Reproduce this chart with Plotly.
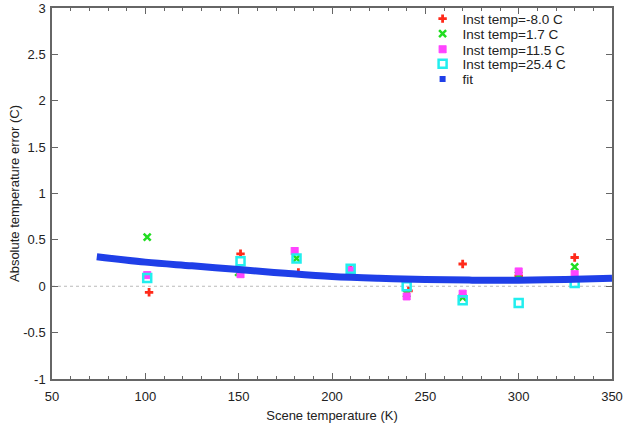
import plotly.graph_objects as go

# Scene temperature (K) for each instrument-temperature series
x_m8 = [102, 151, 182, 210, 241, 270, 300, 330]
y_m8 = [-0.065, 0.35, 0.15, 0.18, -0.05, 0.24, 0.11, 0.31]

x_p17 = [101, 150, 181, 210, 240, 270, 300, 330]
y_p17 = [0.53, 0.15, 0.30, 0.17, -0.08, -0.12, 0.12, 0.21]

x_p115 = [101, 151, 180, 210, 240, 270, 300, 330]
y_p115 = [0.12, 0.13, 0.38, 0.17, -0.11, -0.08, 0.16, 0.13]

x_p254 = [101, 151, 181, 210, 240, 270, 300, 330]
y_p254 = [0.09, 0.27, 0.30, 0.19, 0.0, -0.15, -0.18, 0.035]

fit_x = [74, 100, 125, 150, 175, 200, 225, 250, 275, 300, 325, 350]
fit_y = [0.318, 0.26, 0.22, 0.18, 0.14, 0.105, 0.085, 0.072, 0.066, 0.066, 0.073, 0.086]

x_tickvals = [50, 100, 150, 200, 250, 300, 350]
x_ticktext = ["50", "100", "150", "200", "250", "300", "350"]
y_tickvals = [-1, -0.5, 0, 0.5, 1, 1.5, 2, 2.5, 3]
y_ticktext = ["-1", "-0.5", "0", "0.5", "1", "1.5", "2", "2.5", "3"]

legend_rows_y = [0.9555, 0.920, 0.883, 0.849, 0.813]

font = "Liberation Sans, Arial, Helvetica, sans-serif"
txt = "#222222"

fig = go.Figure()
fig.add_trace(go.Scatter(x=x_m8, y=y_m8, mode="markers", name="Inst temp=-8.0 C", legend="legend",
                         marker=dict(symbol="cross", size=7, color="#ff2a1a", line=dict(width=0))))
fig.add_trace(go.Scatter(x=x_p17, y=y_p17, mode="markers", name="Inst temp=1.7 C", legend="legend2",
                         marker=dict(symbol="x-thin-open", size=7, color="#22dd22",
                                     line=dict(width=2.5, color="#22dd22"))))
fig.add_trace(go.Scatter(x=x_p115, y=y_p115, mode="markers", name="Inst temp=11.5 C", legend="legend3",
                         marker=dict(symbol="square-x", size=7, color="#ff44ff",
                                     line=dict(width=1, color="#ff44ff"))))
fig.add_trace(go.Scatter(x=x_p254, y=y_p254, mode="markers", name="Inst temp=25.4 C", legend="legend4",
                         marker=dict(symbol="square-open", size=8, color="#22eeee",
                                     line=dict(width=2.5, color="#22eeee"))))
fig.add_trace(go.Scatter(x=fit_x, y=fit_y, mode="lines", name="fit", showlegend=False,
                         line=dict(color="#1f3fe8", width=7, shape="spline")))
fig.add_trace(go.Scatter(x=[None], y=[None], mode="markers", name="fit", legend="legend5",
                         marker=dict(symbol="square", size=6, color="#1f3fe8")))

fig.add_hline(y=0, line=dict(color="#bbbbbb", width=1, dash="dot"), layer="below")

axis_common = dict(showline=True, mirror="ticks", linecolor="#666666", linewidth=1.5,
                   ticks="inside", tickcolor="#666666", showgrid=False, zeroline=False,
                   automargin=False,
                   tickfont=dict(family=font, size=13, color=txt))

fig.update_xaxes(range=[50, 350], tickmode="array", tickvals=x_tickvals, ticktext=x_ticktext, ticklen=6,
                 ticklabelstandoff=5,
                 minor=dict(dtick=10, ticks="inside", ticklen=3, tickcolor="#666666"),
                 title=dict(text="Scene temperature (K)", font=dict(family=font, size=13, color=txt)),
                 **axis_common)
fig.update_yaxes(range=[-1, 3], tickmode="array", tickvals=y_tickvals, ticktext=y_ticktext, ticklen=6,
                 ticklabelstandoff=2,
                 title=dict(text="Absolute temperature error (C)", font=dict(family=font, size=13, color=txt),
                            standoff=1),
                 **axis_common)

leg_common = dict(x=0.674, xref="container", yref="container", xanchor="left", yanchor="middle",
                  bgcolor="rgba(0,0,0,0)",
                  font=dict(family=font, size=13.5, color=txt), itemwidth=30, borderwidth=0)
fig.update_layout(
    width=627, height=423,
    margin=dict(l=52, r=15, t=8, b=44, autoexpand=False),
    paper_bgcolor="white", plot_bgcolor="white",
    font=dict(family=font, size=13, color=txt),
    showlegend=True,
    legend=dict(y=legend_rows_y[0], **leg_common),
    legend2=dict(y=legend_rows_y[1], **leg_common),
    legend3=dict(y=legend_rows_y[2], **leg_common),
    legend4=dict(y=legend_rows_y[3], **leg_common),
    legend5=dict(y=legend_rows_y[4], **leg_common),
)

fig.write_html("out.html", config={"displayModeBar": False},
               post_script="document.body.style.margin='0';")
